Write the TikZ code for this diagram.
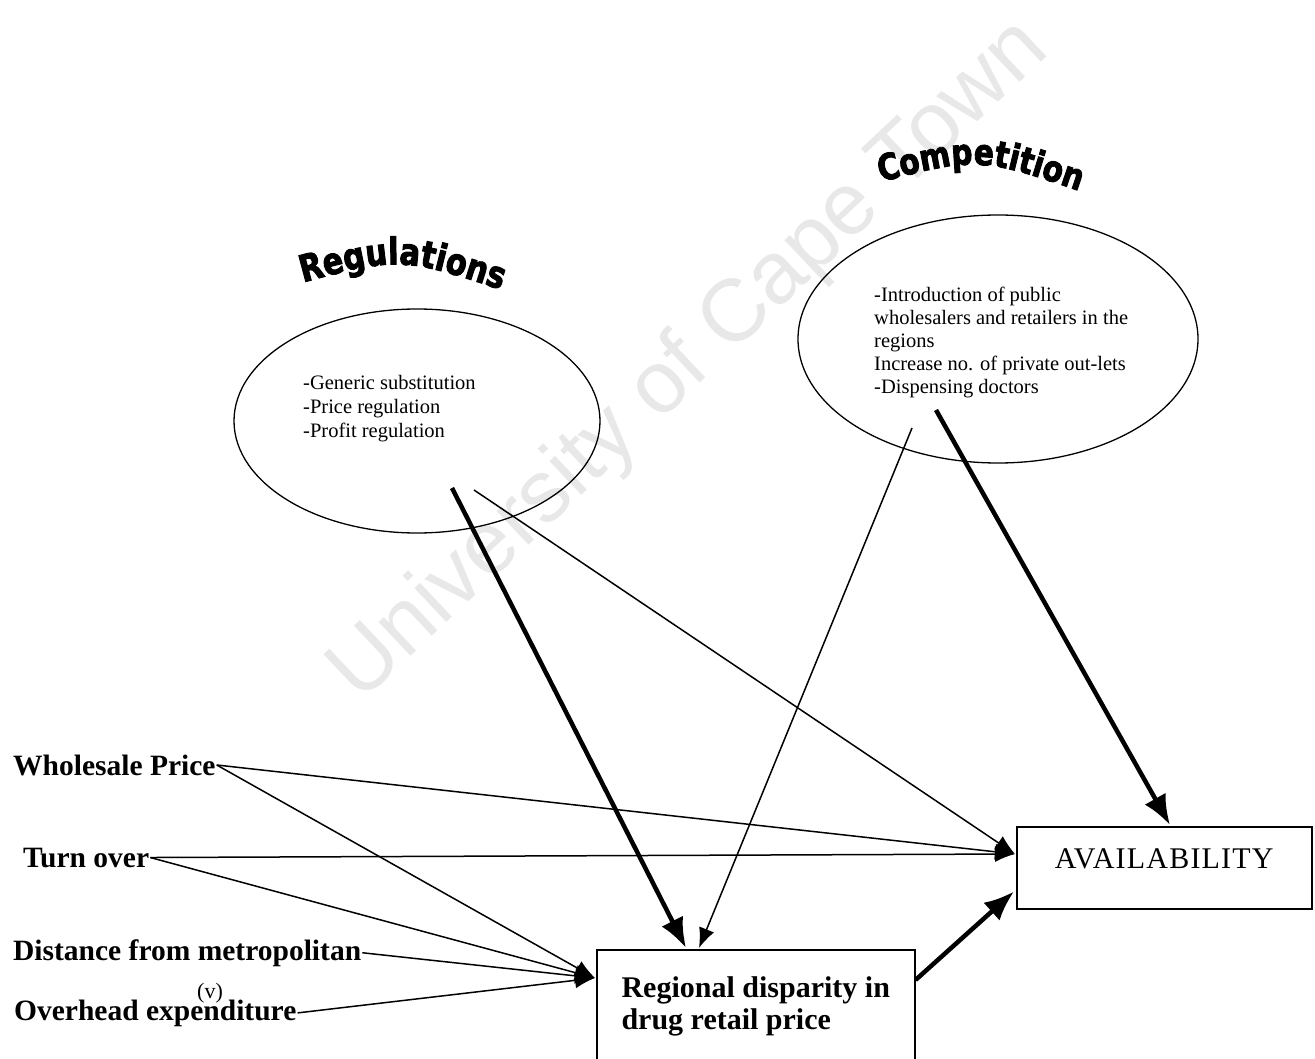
\documentclass[tikz,border=0pt]{standalone}
\usepackage{fontspec}
\setmainfont{Liberation Serif}
\newfontfamily\archfont{DejaVu Sans Bold}[FakeStretch=0.82, FakeBold=2.5]
\newfontfamily\wmfont{Liberation Sans}
\usetikzlibrary{shapes.geometric,arrows.meta,decorations.text,calc}

\begin{document}
\begin{tikzpicture}[x=1pt,y=-1pt,
  oval/.style={draw, ellipse, line width=1.3pt, inner sep=0pt},
  itemtext/.style={align=left, anchor=north west, inner sep=0pt},
  factor/.style={anchor=base west, inner sep=1pt, font=\bfseries\fontsize{29.5}{32}\selectfont},
  outbox/.style={draw, line width=1.5pt, anchor=north west, inner sep=0pt},
  thinarrow/.style={line width=1.5pt, -{Latex[length=20pt,width=16pt]}},
  thickarrow/.style={line width=4.5pt, -{Latex[length=30pt,width=24pt]}},
  archtitle/.style={decorate, decoration={text along path, text align=center, text={#1}}}
]
\useasboundingbox (0,0) rectangle (1315,1059);

% faint watermark behind everything
\node[rotate=43.3, text=black!9, font=\wmfont\fontsize{88}{88}\selectfont] (wm) at (690,362) {University of Cape Town};

% influence groups
\node[oval, minimum width=366, minimum height=224] (reg) at (417,421) {};
\node[oval, minimum width=400, minimum height=248] (comp) at (998,339) {};

\node[itemtext, font=\fontsize{20.5}{24}\selectfont] (regtext) at (303,375)
  {-Generic substitution\\-Price regulation\\-Profit regulation};
\node[itemtext, font=\fontsize{20.5}{23}\selectfont] (comptext) at (874,287)
  {-Introduction of public\\wholesalers and retailers in the\\regions\\Increase no. of private out-lets\\-Dispensing doctors};

% arched headings
\path[archtitle={|\archfont\fontsize{37}{37}\selectfont|Regulations}]
  (290,286) .. controls (400,256) .. (514,294);
\path[archtitle={|\archfont\fontsize{36}{36}\selectfont|Competition}]
  (866,186) .. controls (978,156) .. (1094,196);

% explanatory factors
\node[factor] (wp) at (12,775) {Wholesale Price};
\node[factor] (to) at (22,867) {Turn over};
\node[factor] (dm) at (12,960) {Distance from metropolitan};
\node[factor] (oe) at (13,1020) {Overhead expenditure};
\node[font=\fontsize{22}{22}\selectfont, inner sep=0pt] (vmark) at (210,993) {(v)};

% outcome boxes
\node[outbox, minimum width=318, minimum height=113, align=left,
      font=\bfseries\fontsize{30}{32}\selectfont] (rd) at (596,949)
  {Regional disparity in\\drug retail price};
\node[outbox, minimum width=295, minimum height=82, text depth=18pt,
      font=\fontsize{30}{32}\selectfont\addfontfeatures{LetterSpace=4}] (av) at (1016,826) {AVAILABILITY};

\coordinate (rin) at ($(rd.north west)+(-1,29)$);
\coordinate (ain) at ($(av.north west)+(-1,28)$);

% thin links
\draw[thinarrow] (wp.east) -- (ain);
\draw[thinarrow] (wp.east) -- (rin);
\draw[thinarrow] (to.east) -- (ain);
\draw[thinarrow] (to.east) -- (rin);
\draw[thinarrow] (dm.east) -- (rin);
\draw[thinarrow] (oe.east) -- (rin);
\draw[thinarrow] ($(reg.center)+(57,69)$) -- (ain);
\draw[thinarrow] ($(comp.center)+(-86,89)$) -- ($(rd.north west)+(103,-1)$);

% strong links
\draw[thickarrow] ($(reg.center)+(35,67)$) -- ($(rd.north west)+(90,-1)$);
\draw[thickarrow] ($(comp.center)+(-62,71)$) -- ($(av.north west)+(154,-1)$);
\draw[thickarrow] ($(rd.north east)+(0,31)$) -- ($(av.south west)+(-2,-18)$);
\end{tikzpicture}
\end{document}
